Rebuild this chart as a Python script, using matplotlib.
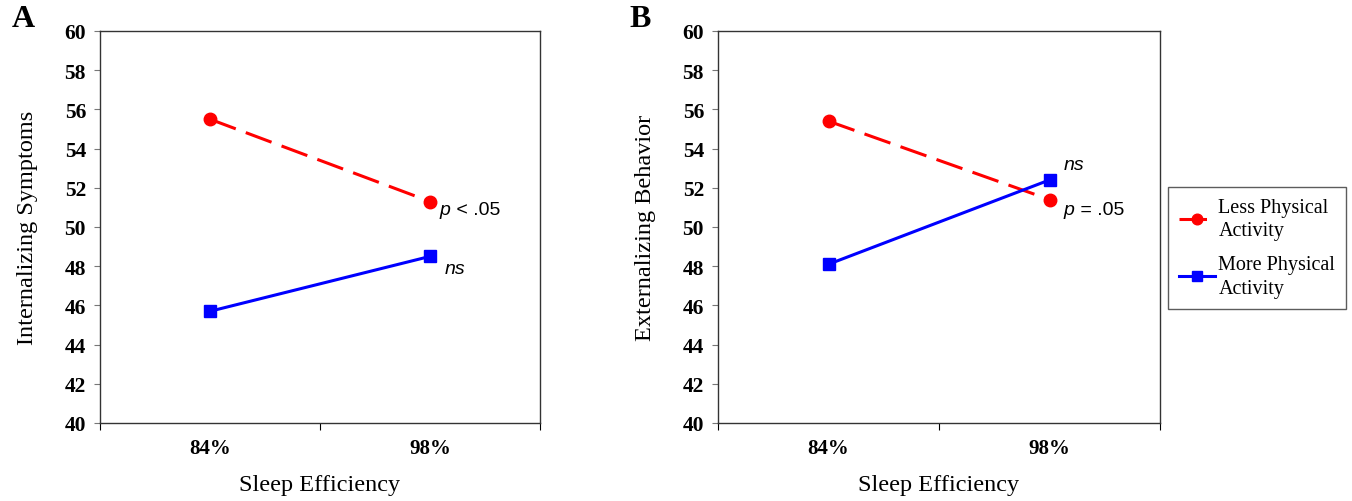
"""Sleep efficiency x physical activity interaction plots (panels A and B)."""

import matplotlib

matplotlib.use("Agg")
import matplotlib.pyplot as plt

categories = ["84%", "98%"]
yticks = list(range(40, 61, 2))

internal_less = [55.5, 51.3]
internal_more = [45.7, 48.5]
external_less = [55.4, 51.4]
external_more = [48.1, 52.4]

series_labels = ["Less Physical\nActivity", "More Physical\nActivity"]

SERIF = "Liberation Serif"
SANS = "Liberation Sans"
RED = "#ff0000"
BLUE = "#0000ff"


def note(ax, x, y, italic, rest=""):
    # italic statistic symbol followed by plain text, both in a sans face
    t = ax.text(x, y, italic, fontfamily=SANS, fontstyle="italic", fontsize=14,
                ha="left", va="center")
    if rest:
        ax.annotate(rest, xy=(1, 0.5), xycoords=t, fontfamily=SANS, fontsize=14,
                    ha="left", va="center")


def draw_panel(ax, less, more, ylabel, letter):
    xs = [0.5, 1.5]
    ax.plot(xs, less, color=RED, lw=2.2, dashes=(9, 3.5), marker="o", ms=9,
            label=series_labels[0])
    ax.plot(xs, more, color=BLUE, lw=2.2, marker="s", ms=9,
            label=series_labels[1])
    ax.set_xlim(0, 2)
    ax.set_ylim(40, 60)
    ax.set_yticks(yticks)
    ax.set_yticklabels([str(t) for t in yticks], fontfamily=SERIF,
                       fontweight="bold", fontsize=15.5)
    ax.set_xticks([0, 1, 2])
    ax.set_xticklabels([])
    ax.set_xticks(xs, minor=True)
    ax.set_xticklabels(categories, minor=True, fontfamily=SERIF,
                       fontweight="bold", fontsize=15)
    ax.tick_params(axis="x", which="minor", length=0, pad=11)
    ax.tick_params(axis="x", which="major", length=5, direction="out")
    ax.tick_params(axis="y", length=4, direction="out", pad=6, color="#777777")
    ax.set_xlabel("Sleep Efficiency", fontfamily=SERIF, fontsize=17.5, labelpad=11)
    ax.set_ylabel(ylabel, fontfamily=SERIF, fontsize=17.5, labelpad=19)
    for sp in ax.spines.values():
        sp.set_linewidth(1.0)
        sp.set_color("#333333")
    ax.text(-0.2, 1.07, letter, transform=ax.transAxes, fontfamily=SERIF,
            fontweight="bold", fontsize=23, ha="left", va="top")


fig = plt.figure(figsize=(13.52, 5.02), dpi=100)
ax_a = fig.add_axes([100 / 1352, 1 - 424 / 502, 440 / 1352, 392 / 502])
ax_b = fig.add_axes([718 / 1352, 1 - 424 / 502, 442 / 1352, 392 / 502])

draw_panel(ax_a, internal_less, internal_more, "Internalizing Symptoms", "A")
note(ax_a, 1.545, 50.9, "p", " < .05")
note(ax_a, 1.565, 47.9, "ns")

draw_panel(ax_b, external_less, external_more, "Externalizing Behavior", "B")
note(ax_b, 1.565, 53.2, "ns")
note(ax_b, 1.565, 50.9, "p", " = .05")

handles, labels = ax_b.get_legend_handles_labels()
leg = fig.legend(handles, labels, loc="upper left",
                 bbox_to_anchor=(1168 / 1352, 1 - 188 / 502),
                 prop={"family": SERIF, "size": 14.5}, frameon=True, fancybox=False,
                 edgecolor="#333333", handlelength=1.8, handletextpad=0.15,
                 borderpad=0.55, labelspacing=0.75, markerscale=0.85,
                 borderaxespad=0)
plt.setp(leg.get_texts(), linespacing=1.3)

fig.savefig("out.png", dpi=100)
